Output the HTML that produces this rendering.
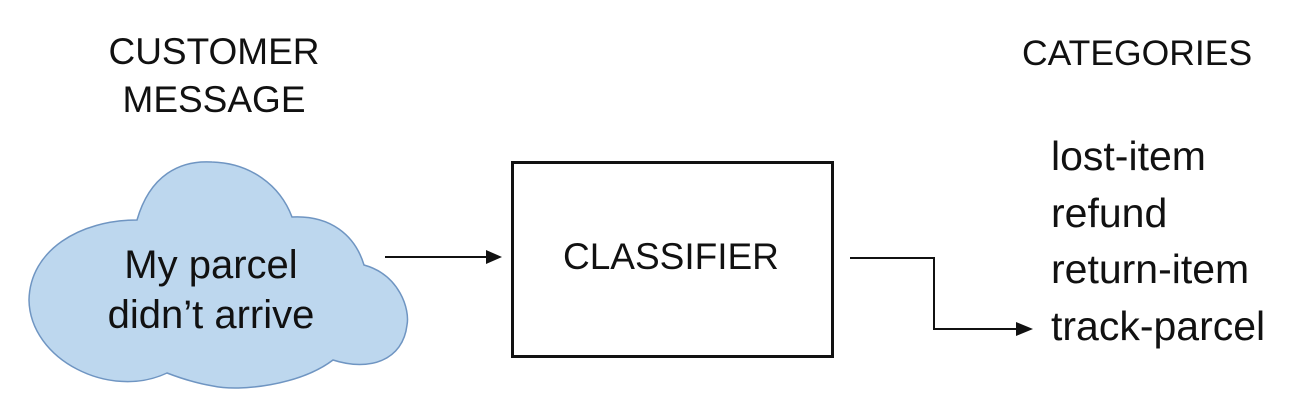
<!DOCTYPE html>
<html><head><style>
html,body{margin:0;padding:0;background:#fff;}
body{width:1299px;height:419px;position:relative;overflow:hidden;font-family:"Liberation Sans",sans-serif;color:#111;}
.t{position:absolute;white-space:nowrap;}
</style></head><body>
<svg width="1299" height="419" style="position:absolute;left:0;top:0">
<path d="M137,220 C150,175 180,160 212,162 C250,163 280,185 292,217 C330,215 355,235 364,265 C400,275 410,310 407,325 C403,360 370,372 333,360 C300,385 240,392 213,386 C195,383 180,378 167,373 C110,400 30,360 29,300 C30,250 80,220 137,220 Z" fill="#bdd7ee" stroke="#6f95c2" stroke-width="1.5"/>
<rect x="512.5" y="162.5" width="320" height="194" fill="#fff" stroke="#111" stroke-width="3"/>
<line x1="385" y1="257" x2="488" y2="257" stroke="#111" stroke-width="2"/>
<polygon points="486,250 502,257 486,264" fill="#111"/>
<polyline points="850,258 934,258 934,329 1018,329" fill="none" stroke="#111" stroke-width="2"/>
<polygon points="1016,322 1033,329 1016,336" fill="#111"/>
</svg>
<div class="t" style="left:108px;top:28px;font-size:37px;line-height:48px;text-align:center;width:212px;">CUSTOMER<br>MESSAGE</div>
<div class="t" style="left:1022px;top:29px;font-size:35.5px;line-height:48px;">CATEGORIES</div>
<div class="t" style="left:1051px;top:128px;font-size:41px;line-height:56.5px;">lost-item<br>refund<br>return-item<br>track-parcel</div>
<div class="t" style="left:86px;top:240px;font-size:40px;line-height:50px;width:250px;text-align:center;">My parcel<br>didn’t arrive</div>
<div class="t" style="left:563px;top:237px;font-size:37px;line-height:40px;">CLASSIFIER</div>
</body></html>
